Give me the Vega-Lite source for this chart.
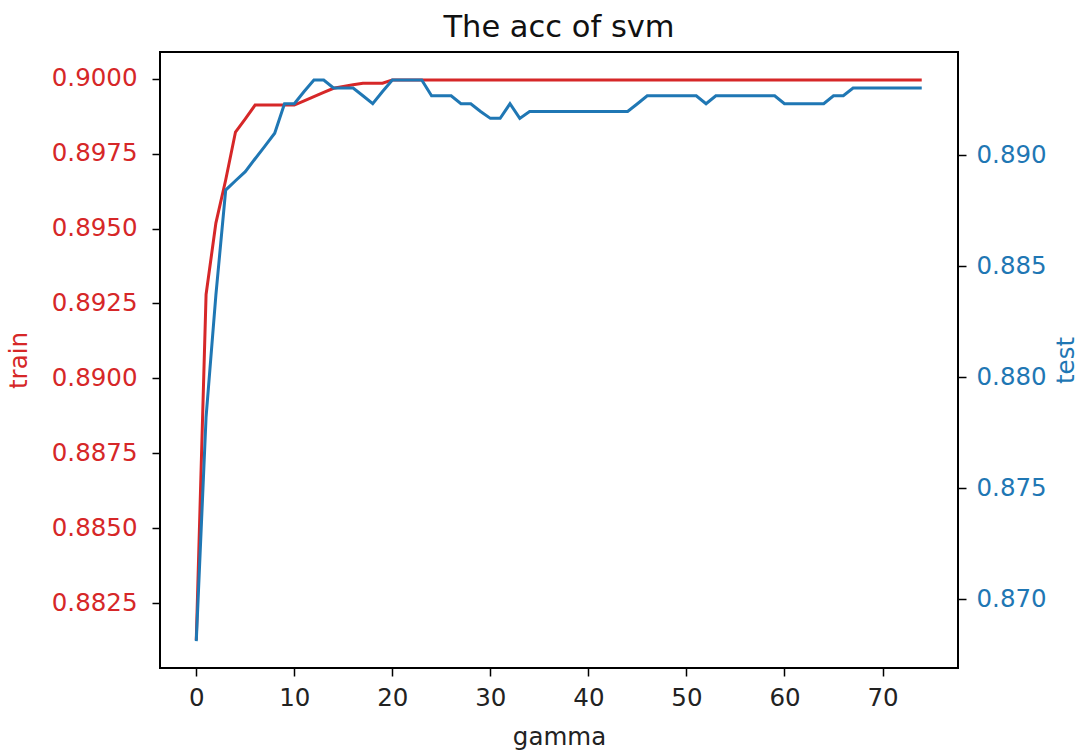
{
  "$schema": "https://vega.github.io/schema/vega-lite/v6.json",
  "width": 798,
  "height": 616,
  "autosize": {"type": "none"},
  "padding": {"left": 160, "top": 52, "right": 123, "bottom": 83},
  "background": "white",
  "config": {
    "view": {"stroke": "black", "strokeWidth": 2},
    "font": "DejaVu Sans",
    "axis": {"grid": false, "domain": false, "tickColor": "black", "tickWidth": 1.5, "tickSize": 8,
      "labelFont": "DejaVu Sans", "labelFontSize": 24.5, "titleFont": "DejaVu Sans", "titleFontSize": 24.5,
      "titleFontWeight": "normal", "labelColor": "#222", "titleColor": "#222"}
  },
  "title": {"text": "The acc of svm", "fontSize": 30.5, "fontWeight": "normal", "font": "DejaVu Sans", "color": "#111", "offset": 9, "anchor": "middle"},
  "data": {"values": [
    {"gamma": 0, "train": 0.88127, "test": 0.86810},
    {"gamma": 1, "train": 0.89280, "test": 0.87820},
    {"gamma": 2, "train": 0.89518, "test": 0.88369},
    {"gamma": 3, "train": 0.89662, "test": 0.88843},
    {"gamma": 4, "train": 0.89822, "test": 0.88885},
    {"gamma": 5, "train": 0.89866, "test": 0.88926},
    {"gamma": 6, "train": 0.89912, "test": 0.88984},
    {"gamma": 7, "train": 0.89912, "test": 0.89041},
    {"gamma": 8, "train": 0.89912, "test": 0.89099},
    {"gamma": 9, "train": 0.89912, "test": 0.89232},
    {"gamma": 10, "train": 0.89912, "test": 0.89232},
    {"gamma": 11, "train": 0.89926, "test": 0.89287},
    {"gamma": 12, "train": 0.89940, "test": 0.89339},
    {"gamma": 13, "train": 0.89954, "test": 0.89339},
    {"gamma": 14, "train": 0.89968, "test": 0.89303},
    {"gamma": 15, "train": 0.89974, "test": 0.89303},
    {"gamma": 16, "train": 0.89980, "test": 0.89303},
    {"gamma": 17, "train": 0.89985, "test": 0.89268},
    {"gamma": 18, "train": 0.89985, "test": 0.89232},
    {"gamma": 19, "train": 0.89985, "test": 0.89287},
    {"gamma": 20, "train": 0.89996, "test": 0.89339},
    {"gamma": 21, "train": 0.89996, "test": 0.89339},
    {"gamma": 22, "train": 0.89996, "test": 0.89339},
    {"gamma": 23, "train": 0.89996, "test": 0.89339},
    {"gamma": 24, "train": 0.89996, "test": 0.89268},
    {"gamma": 25, "train": 0.89996, "test": 0.89268},
    {"gamma": 26, "train": 0.89996, "test": 0.89268},
    {"gamma": 27, "train": 0.89996, "test": 0.89232},
    {"gamma": 28, "train": 0.89996, "test": 0.89232},
    {"gamma": 29, "train": 0.89996, "test": 0.89197},
    {"gamma": 30, "train": 0.89996, "test": 0.89166},
    {"gamma": 31, "train": 0.89996, "test": 0.89166},
    {"gamma": 32, "train": 0.89996, "test": 0.89232},
    {"gamma": 33, "train": 0.89996, "test": 0.89166},
    {"gamma": 34, "train": 0.89996, "test": 0.89197},
    {"gamma": 35, "train": 0.89996, "test": 0.89197},
    {"gamma": 36, "train": 0.89996, "test": 0.89197},
    {"gamma": 37, "train": 0.89996, "test": 0.89197},
    {"gamma": 38, "train": 0.89996, "test": 0.89197},
    {"gamma": 39, "train": 0.89996, "test": 0.89197},
    {"gamma": 40, "train": 0.89996, "test": 0.89197},
    {"gamma": 41, "train": 0.89996, "test": 0.89197},
    {"gamma": 42, "train": 0.89996, "test": 0.89197},
    {"gamma": 43, "train": 0.89996, "test": 0.89197},
    {"gamma": 44, "train": 0.89996, "test": 0.89197},
    {"gamma": 45, "train": 0.89996, "test": 0.89232},
    {"gamma": 46, "train": 0.89996, "test": 0.89268},
    {"gamma": 47, "train": 0.89996, "test": 0.89268},
    {"gamma": 48, "train": 0.89996, "test": 0.89268},
    {"gamma": 49, "train": 0.89996, "test": 0.89268},
    {"gamma": 50, "train": 0.89996, "test": 0.89268},
    {"gamma": 51, "train": 0.89996, "test": 0.89268},
    {"gamma": 52, "train": 0.89996, "test": 0.89232},
    {"gamma": 53, "train": 0.89996, "test": 0.89268},
    {"gamma": 54, "train": 0.89996, "test": 0.89268},
    {"gamma": 55, "train": 0.89996, "test": 0.89268},
    {"gamma": 56, "train": 0.89996, "test": 0.89268},
    {"gamma": 57, "train": 0.89996, "test": 0.89268},
    {"gamma": 58, "train": 0.89996, "test": 0.89268},
    {"gamma": 59, "train": 0.89996, "test": 0.89268},
    {"gamma": 60, "train": 0.89996, "test": 0.89232},
    {"gamma": 61, "train": 0.89996, "test": 0.89232},
    {"gamma": 62, "train": 0.89996, "test": 0.89232},
    {"gamma": 63, "train": 0.89996, "test": 0.89232},
    {"gamma": 64, "train": 0.89996, "test": 0.89232},
    {"gamma": 65, "train": 0.89996, "test": 0.89268},
    {"gamma": 66, "train": 0.89996, "test": 0.89268},
    {"gamma": 67, "train": 0.89996, "test": 0.89303},
    {"gamma": 68, "train": 0.89996, "test": 0.89303},
    {"gamma": 69, "train": 0.89996, "test": 0.89303},
    {"gamma": 70, "train": 0.89996, "test": 0.89303},
    {"gamma": 71, "train": 0.89996, "test": 0.89303},
    {"gamma": 72, "train": 0.89996, "test": 0.89303},
    {"gamma": 73, "train": 0.89996, "test": 0.89303},
    {"gamma": 74, "train": 0.89996, "test": 0.89303}
  ]},
  "encoding": {
    "x": {"field": "gamma", "type": "quantitative",
      "scale": {"domain": [-3.7, 77.7], "nice": false, "zero": false},
      "axis": {"values": [0, 10, 20, 30, 40, 50, 60, 70], "title": "gamma", "labelPadding": 10, "titlePadding": 16}}
  },
  "layer": [
    {
      "mark": {"type": "line", "color": "#d62728", "strokeWidth": 3},
      "encoding": {
        "y": {"field": "train", "type": "quantitative",
          "scale": {"domain": [0.880334, 0.900891], "nice": false, "zero": false},
          "axis": {"orient": "left", "values": [0.8825, 0.885, 0.8875, 0.89, 0.8925, 0.895, 0.8975, 0.9],
            "format": ".4f", "labelColor": "#d62728", "titleColor": "#d62728", "title": "train",
            "labelPadding": 15, "titlePadding": 20}}
      }
    },
    {
      "mark": {"type": "line", "color": "#1f77b4", "strokeWidth": 3},
      "encoding": {
        "y": {"field": "test", "type": "quantitative",
          "scale": {"domain": [0.866891, 0.894651], "nice": false, "zero": false},
          "axis": {"orient": "right", "values": [0.87, 0.875, 0.88, 0.885, 0.89],
            "format": ".3f", "labelColor": "#1f77b4", "titleColor": "#1f77b4", "title": "test",
            "titleAngle": 270, "labelPadding": 10, "titlePadding": 32}}
      }
    }
  ],
  "resolve": {"scale": {"y": "independent"}}
}
